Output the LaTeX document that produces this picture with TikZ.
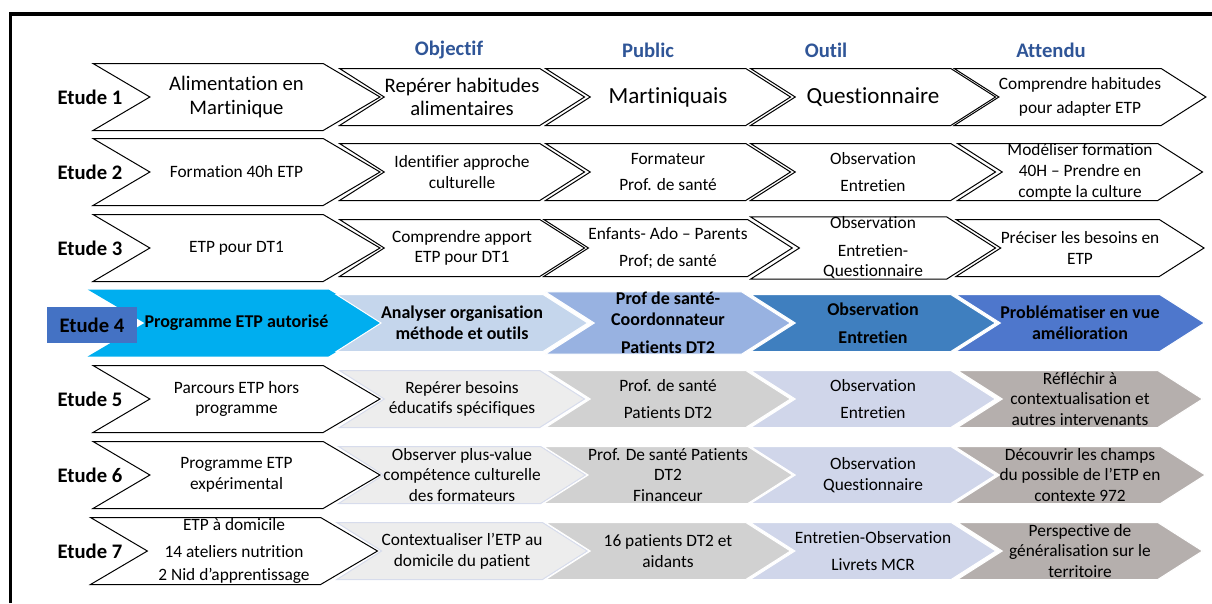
\documentclass[tikz,border=0pt]{standalone}
\usepackage{fontspec}
\setmainfont{Carlito}[Ligatures={NoCommon,NoContextual}, Contextuals=NoAlternate, RawFeature={-liga;-calt;-clig;-dlig}]
\usetikzlibrary{shapes.symbols}

\definecolor{bleuTitre}{HTML}{2F5597}
\definecolor{bleuCyan}{HTML}{00AEEF}
\definecolor{bleuClair}{HTML}{C5D6EC}
\definecolor{bleuMoyen}{HTML}{98B2E1}
\definecolor{bleuAcier}{HTML}{3F7FBF}
\definecolor{bleuRoi}{HTML}{4E77CC}
\definecolor{bleuEtude}{HTML}{4472C4}
\definecolor{grisClair}{HTML}{EDEDED}
\definecolor{bordGris}{HTML}{D7DCEC}
\definecolor{grisMoyen}{HTML}{D1D1D1}
\definecolor{lavande}{HTML}{D0D6EA}
\definecolor{taupe}{HTML}{B5AFAD}

\begin{document}
\begin{tikzpicture}[x=0.75pt, y=-0.75pt,
    every node/.style={font=\fontsize{13}{15.5}\selectfont, align=center, inner sep=0pt},
    etude/.style={font=\fontsize{15.5}{18}\selectfont\bfseries},
    titre/.style={font=\fontsize{15.5}{18}\selectfont\bfseries, text=bleuTitre},
    grand/.style={font=\fontsize{15.5}{17.5}\selectfont},
    tresgrand/.style={font=\fontsize{17.3}{20}\selectfont},
    gras/.style={font=\fontsize{13.5}{16}\selectfont\bfseries},
    first/.style={signal, signal from=west, signal to=east, signal pointer angle=61, minimum width=215.25pt, minimum height=50.25pt},
    cell/.style={signal, signal from=west, signal to=east, signal pointer angle=65, minimum width=183.75pt, minimum height=42.75pt},
    blanc/.style={draw=black, fill=white, line width=0.75pt},
    gris/.style={draw=bordGris, fill=grisClair, line width=0.75pt},
    plein/.style={draw=white, line width=0.75pt, fill=#1}]

  \useasboundingbox (0,0) rectangle (1212,603);
  \draw[line width=2.8pt] (10.5,603) -- (10.5,14) -- (1212,14);

  % titres des colonnes
  \node[titre] (hobj) at (449,50) {Objectif};
  \node[titre] (hpub) at (648,50) {Public};
  \node[titre] (hout) at (826,50) {Outil};
  \node[titre] (hatt) at (1051,50) {Attendu};

  % etude 1
  \node[etude] (e1) at (90,97) {Etude 1};
  \node[first, blanc, grand] (p1) at (236.5,97) {Alimentation en\\Martinique};
  \node[cell, blanc, grand] (o1) at (462,97) {Repérer habitudes\\alimentaires};
  \node[cell, blanc, tresgrand] (u1) at (668,97) {Martiniquais};
  \node[cell, blanc, tresgrand] (t1) at (873,97) {Questionnaire};
  \node[cell, blanc] (a1) at (1080,97) {Comprendre habitudes\\[3pt]pour adapter ETP};

  % etude 2
  \node[etude] (e2) at (90,172) {Etude 2};
  \node[first, blanc] (p2) at (236.5,172) {Formation 40h ETP};
  \node[cell, blanc] (o2) at (462,172) {Identifier approche\\culturelle};
  \node[cell, blanc] (u2) at (668,172) {Formateur\\[4.5pt]Prof. de santé};
  \node[cell, blanc] (t2) at (873,172) {Observation\\[5pt]Entretien};
  \node[cell, blanc] (a2) at (1080,172) {Modéliser formation\\40H – Prendre en\\compte la culture};

  % etude 3
  \node[etude] (e3) at (90,248) {Etude 3};
  \node[first, blanc] (p3) at (236.5,248) {ETP pour DT1};
  \node[cell, blanc] (o3) at (462,248) {Comprendre apport\\ETP pour DT1};
  \node[cell, blanc] (u3) at (668,248) {Enfants- Ado – Parents\\[4.5pt]Prof; de santé};
  \node[cell, blanc] (t3) at (873,248) {Observation\\[5pt]Entretien-\\Questionnaire};
  \node[cell, blanc] (a3) at (1080,248) {Préciser les besoins en\\ETP};

  % etude 4
  \node[first, plein=bleuCyan, draw=none, gras] (p4) at (236.5,323) {Programme ETP autorisé};
  \node[cell, plein=bleuClair, gras] (o4) at (462,323) {Analyser organisation\\méthode et outils};
  \node[cell, plein=bleuMoyen, gras] (u4) at (668,323) {Prof de santé-\\Coordonnateur\\[5pt]Patients DT2};
  \node[cell, plein=bleuAcier, gras] (t4) at (873,323) {Observation\\[5pt]Entretien};
  \node[cell, plein=bleuRoi, gras] (a4) at (1080,323) {Problématiser en vue\\amélioration};
  \node[etude, fill=bleuEtude, minimum width=67.5pt, minimum height=27pt] (e4) at (92,325) {Etude 4};

  % etude 5
  \node[etude] (e5) at (90,399) {Etude 5};
  \node[first, blanc] (p5) at (236.5,399) {Parcours ETP hors\\programme};
  \node[cell, gris] (o5) at (462,399) {Repérer besoins\\éducatifs spécifiques};
  \node[cell, plein=grisMoyen] (u5) at (668,399) {Prof. de santé\\[5pt]Patients DT2};
  \node[cell, plein=lavande] (t5) at (873,399) {Observation\\[5pt]Entretien};
  \node[cell, plein=taupe] (a5) at (1080,399) {Réfléchir à\\contextualisation et\\autres intervenants};

  % etude 6
  \node[etude] (e6) at (90,475) {Etude 6};
  \node[first, blanc] (p6) at (236.5,475) {Programme ETP\\expérimental};
  \node[cell, gris] (o6) at (462,475) {Observer plus-value\\compétence culturelle\\des formateurs};
  \node[cell, plein=grisMoyen] (u6) at (668,475) {Prof. De santé Patients\\DT2\\Financeur};
  \node[cell, plein=lavande] (t6) at (873,475) {Observation\\Questionnaire};
  \node[cell, plein=taupe] (a6) at (1080,475) {Découvrir les champs\\du possible de l’ETP en\\contexte 972};

  % etude 7
  \node[etude] (e7) at (90,551) {Etude 7};
  \node[first, blanc] (p7) at (234,551) {ETP à domicile\\[5pt]14 ateliers nutrition\\[2pt]2 Nid d’apprentissage};
  \node[cell, gris] (o7) at (462,551) {Contextualiser l’ETP au\\domicile du patient};
  \node[cell, plein=grisMoyen] (u7) at (668,551) {16 patients DT2 et\\aidants};
  \node[cell, plein=lavande] (t7) at (873,551) {Entretien-Observation\\[5pt]Livrets MCR};
  \node[cell, plein=taupe] (a7) at (1080,551) {Perspective de\\généralisation sur le\\territoire};
\end{tikzpicture}
\end{document}
